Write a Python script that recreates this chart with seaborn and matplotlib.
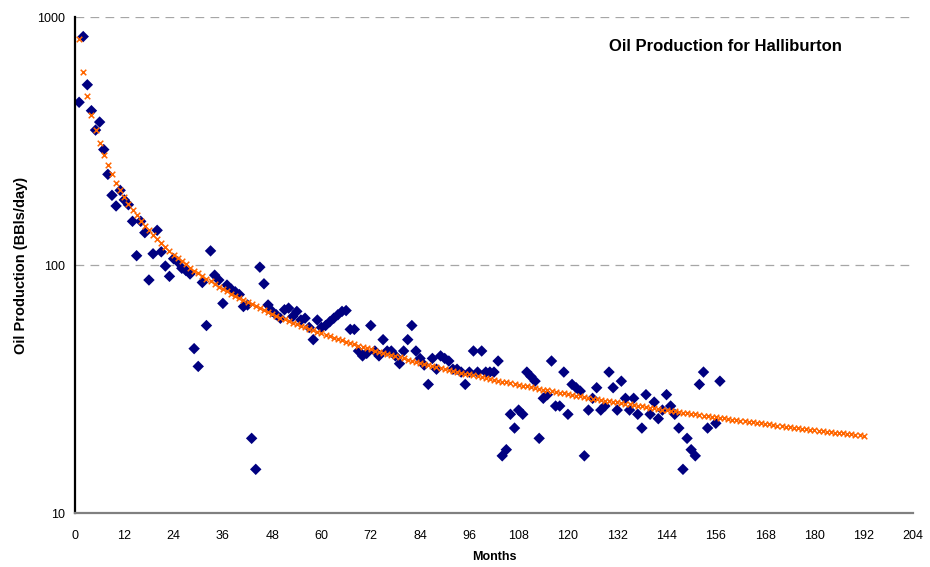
import matplotlib
matplotlib.use("Agg")
import matplotlib.pyplot as plt
import seaborn as sns
import pandas as pd
from matplotlib.ticker import NullLocator, FixedLocator

# Monthly oil production
months = list(range(1, 155)) + [156, 157]
production = [
    453, 834, 533, 419, 350, 377, 292, 232, 191, 173,
    200, 183, 175, 150, 109, 150, 135, 87, 111, 138,
    113, 99, 90, 106, 103, 97, 95, 92, 46, 39,
    85, 57, 114, 91, 87, 70, 83, 80, 78, 76,
    68, 69, 20, 15, 98, 84, 69, 65, 63, 61,
    66, 67, 62, 65, 60, 61, 56, 50, 60, 56,
    57, 59, 61, 63, 65, 65.5, 55, 55, 45, 43,
    44, 57, 45, 43, 50, 45, 45, 43, 40, 45,
    50, 57, 45, 42, 39.5, 33, 42, 38, 43, 42,
    41, 38, 38, 37, 33, 37, 45, 37, 45, 37,
    37, 37, 41, 17, 18, 25, 22, 26, 25, 37,
    35.5, 34, 20, 29, 30, 41, 27, 27, 37, 25,
    33, 32, 31, 17, 26, 29, 32, 26, 27, 37,
    32, 26, 34, 29, 26, 29, 25, 22, 30, 25,
    28, 24, 26, 30, 27, 25, 22, 15, 20, 18,
    17, 33, 37, 22, 23, 34,
]

# Decline-curve forecast, one value per month 1..192
forecast = [
    815, 601, 482, 404, 350, 310, 278, 253, 233, 215,
    201, 188, 177, 167, 159, 151, 144, 138, 132, 127,
    122.5, 118, 114, 110, 107, 104, 100.5, 97.7, 95.0, 92.5,
    90.1, 87.9, 85.8, 83.7, 81.8, 80.0, 78.3, 76.6, 75.0, 73.5,
    72.1, 70.7, 69.4, 68.1, 66.9, 65.7, 64.6, 63.5, 62.4, 61.4,
    60.5, 59.5, 58.6, 57.7, 56.9, 56.1, 55.3, 54.5, 53.7, 53.0,
    52.3, 51.6, 51.0, 50.3, 49.7, 49.1, 48.5, 47.9, 47.3, 46.8,
    46.2, 45.7, 45.2, 44.7, 44.2, 43.8, 43.3, 42.8, 42.4, 42.0,
    41.5, 41.1, 40.7, 40.3, 39.9, 39.6, 39.2, 38.8, 38.5, 38.1,
    37.8, 37.4, 37.1, 36.8, 36.5, 36.2, 35.9, 35.6, 35.3, 35.0,
    34.7, 34.4, 34.1, 33.9, 33.6, 33.4, 33.1, 32.9, 32.6, 32.4,
    32.1, 31.9, 31.7, 31.4, 31.2, 31.0, 30.8, 30.6, 30.4, 30.1,
    29.9, 29.7, 29.5, 29.3, 29.1, 28.9, 28.8, 28.6, 28.4, 28.2,
    28.0, 27.9, 27.7, 27.5, 27.4, 27.2, 27.0, 26.9, 26.7, 26.6,
    26.4, 26.3, 26.1, 26.0, 25.8, 25.7, 25.5, 25.4, 25.2, 25.1,
    25.0, 24.8, 24.7, 24.6, 24.4, 24.3, 24.2, 24.1, 23.9, 23.8,
    23.7, 23.6, 23.5, 23.3, 23.2, 23.1, 23.0, 22.9, 22.8, 22.7,
    22.5, 22.4, 22.3, 22.2, 22.1, 22.0, 21.9, 21.8, 21.7, 21.6,
    21.5, 21.4, 21.3, 21.2, 21.1, 21.0, 21.0, 20.9, 20.8, 20.7,
    20.6, 20.5,
]
forecast_months = list(range(1, len(forecast) + 1))

x_ticks = list(range(0, 205, 12))
y_ticks = [10, 100, 1000]
y_tick_labels = ["10", "100", "1000"]

df_actual = pd.DataFrame({"Months": months, "Oil": production})
df_fit = pd.DataFrame({"Months": forecast_months, "Oil": forecast})

sns.set_style("white")
plt.rcParams["font.family"] = ["Liberation Sans", "DejaVu Sans"]
plt.rcParams["text.color"] = "black"
plt.rcParams["axes.labelcolor"] = "black"
plt.rcParams["xtick.color"] = "black"
plt.rcParams["ytick.color"] = "black"

fig = plt.figure(figsize=(9.3, 5.67), dpi=100)
ax = fig.add_axes([75 / 930, 1 - 513 / 567, (913 - 75) / 930, (513 - 17) / 567])

sns.scatterplot(data=df_fit, x="Months", y="Oil", marker="x", color="#FF6600",
                s=16, linewidth=1.1, ax=ax, zorder=3)
sns.scatterplot(data=df_actual, x="Months", y="Oil", marker="D", color="#000080",
                s=34, edgecolor="none", ax=ax, zorder=2)

ax.set_yscale("log")
ax.set_ylim(10, 1000)
ax.set_xlim(0, 204)
ax.yaxis.set_major_locator(FixedLocator(y_ticks))
ax.yaxis.set_minor_locator(NullLocator())
ax.set_yticklabels(y_tick_labels)
ax.set_xticks(x_ticks)

ax.yaxis.grid(True, color="#a6a6a6", linestyle=(0, (7, 5)), linewidth=0.9)
ax.set_axisbelow(True)

for side in ["top", "right"]:
    ax.spines[side].set_visible(False)
ax.spines["left"].set_color("black")
ax.spines["left"].set_linewidth(1.6)
ax.spines["bottom"].set_color("#808080")
ax.spines["bottom"].set_linewidth(1.6)

ax.tick_params(axis="y", which="major", direction="out", length=4, width=1.2,
               color="black", labelsize=9, pad=3)
ax.tick_params(axis="x", which="major", direction="out", length=4, width=1.0,
               color="#808080", labelsize=9, pad=8)

ax.set_xlabel("Months", fontsize=9, fontweight="bold", labelpad=7)
ax.set_ylabel("Oil Production (BBls/day)", fontsize=10.5, fontweight="bold", labelpad=7)
ax.text(0.776, 0.9415, "Oil Production for Halliburton", transform=ax.transAxes,
        ha="center", va="center", fontsize=12, fontweight="bold")

fig.savefig("out.png", dpi=100)
